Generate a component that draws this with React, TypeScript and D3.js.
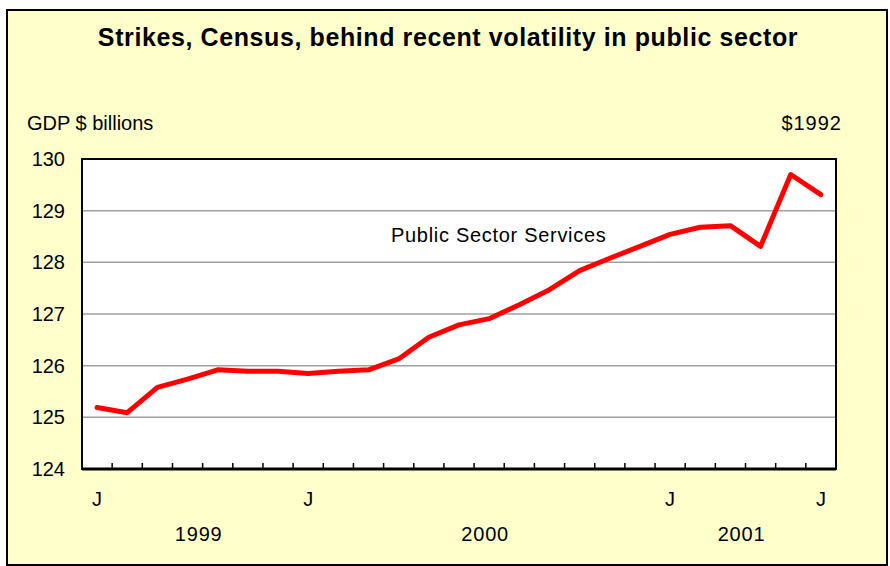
import React, { useEffect, useRef } from 'react';
import * as d3 from 'd3';

// Monthly real GDP, public sector services ($1992 billions)
const values = [
  125.19, 125.09, 125.58, 125.74, 125.92, 125.89, 125.89, 125.85, 125.89,
  125.92, 126.13, 126.55, 126.79, 126.91, 127.18, 127.47, 127.84, 128.08,
  128.31, 128.54, 128.68, 128.71, 128.31, 129.7, 129.31,
];
const monthLabels = [
  'J', '', '', '', '', '', '', 'J', '', '', '', '', '', '', '', '', '', '', '',
  'J', '', '', '', '', 'J',
];
const yearLabels = ['1999', '2000', '2001'];
const yTicks = [124, 125, 126, 127, 128, 129, 130];

const title = 'Strikes, Census, behind recent volatility in public sector';
const seriesName = 'Public Sector Services';

const App: React.FC = () => {
  const svgRef = useRef<SVGSVGElement>(null);

  useEffect(() => {
    document.body.style.margin = '0';
    if (!svgRef.current) return;

    const svg = d3.select(svgRef.current);
    svg.selectAll('*').remove();

    const width = 890;
    const height = 566;
    const plot = { left: 82, right: 836, top: 159, bottom: 469 };
    const font = '"Liberation Sans", Arial, sans-serif';

    // outer frame
    svg.append('rect')
      .attr('x', 7).attr('y', 10)
      .attr('width', 880).attr('height', 555)
      .attr('fill', '#FFFFCC')
      .attr('stroke', '#000')
      .attr('stroke-width', 2);

    svg.append('text')
      .attr('x', 448).attr('y', 46)
      .attr('text-anchor', 'middle')
      .attr('font-family', font)
      .attr('font-weight', 'bold')
      .attr('font-size', 25)
      .attr('letter-spacing', 0.6)
      .text(title);

    svg.append('text')
      .attr('x', 27).attr('y', 130)
      .attr('font-family', font)
      .attr('font-size', 20)
      .text('GDP $ billions');

    svg.append('text')
      .attr('x', 842).attr('y', 130)
      .attr('text-anchor', 'end')
      .attr('font-family', font)
      .attr('font-size', 20)
      .attr('letter-spacing', 1)
      .text('$1992');

    const idx = values.map((_, i) => i);
    const x = d3.scaleBand<number>()
      .domain(idx)
      .range([plot.left, plot.right]);
    const cx = (i: number) => (x(i) as number) + x.bandwidth() / 2;

    const y = d3.scaleLinear()
      .domain([124, 130])
      .range([plot.bottom, plot.top]);

    // plot area
    svg.append('rect')
      .attr('x', plot.left).attr('y', plot.top)
      .attr('width', plot.right - plot.left)
      .attr('height', plot.bottom - plot.top)
      .attr('fill', '#fff');

    // gridlines
    svg.append('g')
      .selectAll('line')
      .data(yTicks.slice(1, -1))
      .join('line')
      .attr('x1', plot.left).attr('x2', plot.right)
      .attr('y1', d => y(d)).attr('y2', d => y(d))
      .attr('stroke', '#a0a0a0')
      .attr('stroke-width', 1.5);

    svg.append('rect')
      .attr('x', plot.left).attr('y', plot.top)
      .attr('width', plot.right - plot.left)
      .attr('height', plot.bottom - plot.top)
      .attr('fill', 'none')
      .attr('stroke', '#000')
      .attr('stroke-width', 2);

    // bottom axis line + inner ticks at band boundaries
    svg.append('line')
      .attr('x1', plot.left).attr('x2', plot.right)
      .attr('y1', plot.bottom).attr('y2', plot.bottom)
      .attr('stroke', '#000')
      .attr('stroke-width', 3);

    svg.append('g')
      .selectAll('line')
      .data(idx.slice(1))
      .join('line')
      .attr('x1', d => x(d) as number).attr('x2', d => x(d) as number)
      .attr('y1', plot.bottom).attr('y2', plot.bottom - 6)
      .attr('stroke', '#000')
      .attr('stroke-width', 1.5);

    // y tick labels
    svg.append('g')
      .selectAll('text')
      .data(yTicks)
      .join('text')
      .attr('x', 65)
      .attr('y', d => y(d) + 7)
      .attr('text-anchor', 'end')
      .attr('font-family', font)
      .attr('font-size', 20)
      .text(d => d);

    // month labels
    const labelled = idx.filter(i => monthLabels[i]);
    svg.append('g')
      .selectAll('text')
      .data(labelled)
      .join('text')
      .attr('x', d => cx(d))
      .attr('y', 506)
      .attr('text-anchor', 'middle')
      .attr('font-family', font)
      .attr('font-size', 20)
      .text(d => monthLabels[d]);

    // year labels roughly centred between consecutive J marks
    svg.append('g')
      .selectAll('text')
      .data(yearLabels)
      .join('text')
      .attr('x', (_, i) => (cx(labelled[i]) + cx(labelled[i + 1])) / 2 - 4)
      .attr('y', 541)
      .attr('text-anchor', 'middle')
      .attr('font-family', font)
      .attr('font-size', 20)
      .attr('letter-spacing', 0.8)
      .text(d => d);

    // series line
    const line = d3.line<number>()
      .x((_, i) => cx(i))
      .y(d => y(d));

    svg.append('path')
      .datum(values)
      .attr('fill', 'none')
      .attr('stroke', '#ff0000')
      .attr('stroke-width', 5)
      .attr('stroke-linejoin', 'round')
      .attr('stroke-linecap', 'round')
      .attr('d', line);

    svg.append('text')
      .attr('x', 391).attr('y', 242)
      .attr('font-family', font)
      .attr('font-size', 20)
      .attr('letter-spacing', 0.7)
      .text(seriesName);

    svg.attr('width', width).attr('height', height);
  }, []);

  return <svg ref={svgRef} width={890} height={566} style={{ display: 'block' }} />;
};

export default App;
